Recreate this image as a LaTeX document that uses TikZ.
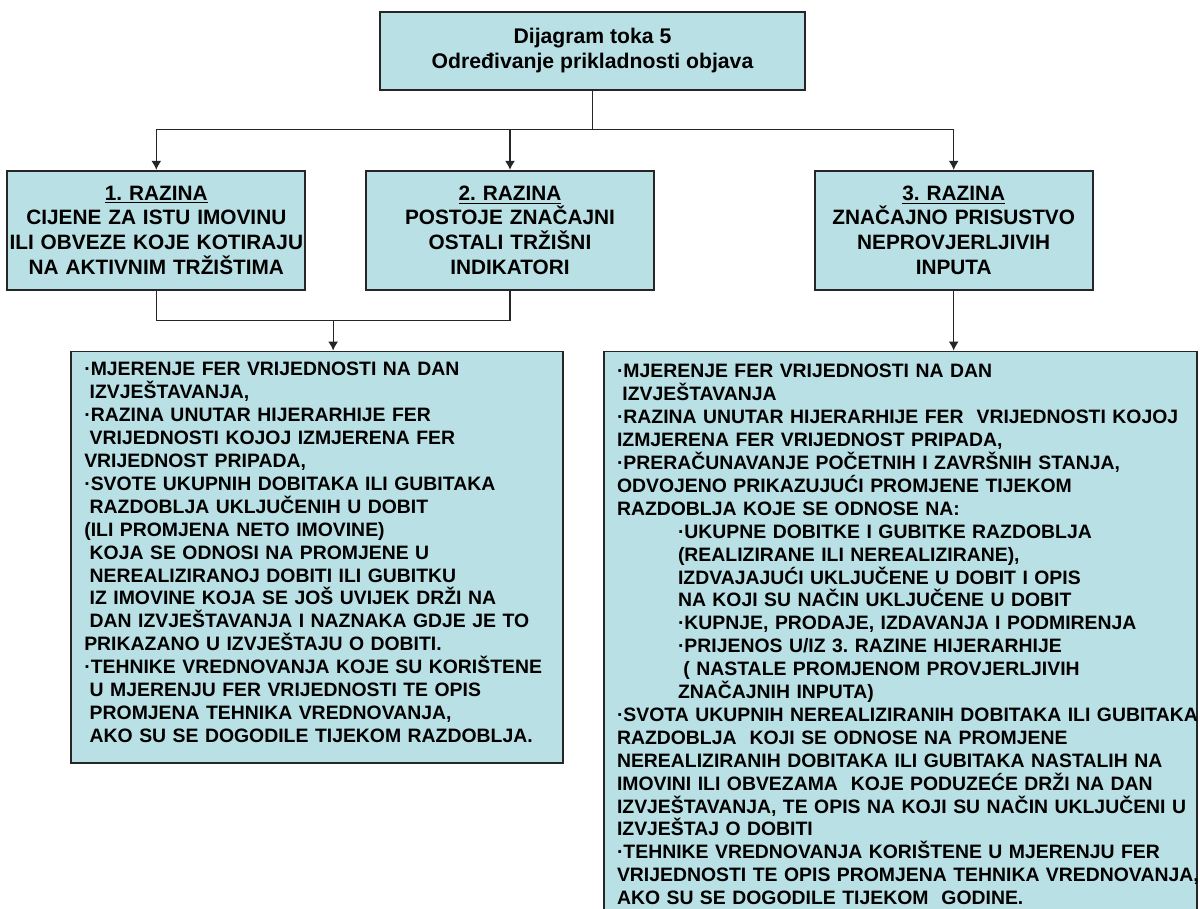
\documentclass[tikz,border=0pt]{standalone}
\usepackage{fontspec}
\setmainfont{Liberation Sans}
\usetikzlibrary{positioning,shapes,arrows.meta,calc}
\definecolor{boxfill}{RGB}{185,224,228}
\newcommand{\lsp}{\hspace*{0.28em}}
\newcommand{\subind}{\hspace*{30.5pt}}
\frenchspacing
\hyphenpenalty=10000
\exhyphenpenalty=10000

\begin{document}
\begin{tikzpicture}[
  x=1pt,y=1pt,
  box/.style={draw=black!85,line width=0.85pt,fill=boxfill,inner sep=0pt},
  titlebox/.style={box,minimum width=212.5pt,minimum height=39pt,align=center,
    font=\bfseries\fontsize{10.6}{12.5}\selectfont},
  levelbox/.style={box,minimum height=59.5pt,align=center,
    font=\bfseries\fontsize{10.4}{12.4}\selectfont},
  listbox/.style={box,align=left,inner xsep=6.5pt,inner ysep=6.5pt,
    font=\bfseries\fontsize{9.7}{11.45}\selectfont},
  link/.style={line width=0.65pt,black!85},
  tip/.style={-{Latex[length=4.5pt,width=5pt]}}
]
\useasboundingbox (0,0) rectangle (600,-454.5);
\clip (0,0) rectangle (600,-454.5);

\node[titlebox] (title) at (296.25,-25.5) {Dijagram toka 5\\Određivanje prikladnosti objava};
\node[levelbox,text width=149pt,below left=39.5pt and 36.5pt of title] (lvl1)
  {\underline{1. RAZINA}\\CIJENE ZA ISTU IMOVINU\\ILI OBVEZE KOJE KOTIRAJU\\NA AKTIVNIM TRŽIŠTIMA};
\node[levelbox,text width=144pt,right=29.5pt of lvl1] (lvl2)
  {\underline{2. RAZINA}\\POSTOJE ZNAČAJNI\\OSTALI TRŽIŠNI\\INDIKATORI};
\node[levelbox,text width=139pt,right=79.5pt of lvl2] (lvl3)
  {\underline{3. RAZINA}\\ZNAČAJNO PRISUSTVO\\NEPROVJERLJIVIH\\INPUTA};
\node[listbox,text width=233pt,inner ysep=5.5pt,text depth=188pt,
  below=30pt of lvl1.south west,anchor=north west,xshift=32pt] (obj12)
  {·MJERENJE FER VRIJEDNOSTI NA DAN\\
  \lsp IZVJEŠTAVANJA,\\
  ·RAZINA UNUTAR HIJERARHIJE FER\\
  \lsp VRIJEDNOSTI KOJOJ IZMJERENA FER\\
  VRIJEDNOST PRIPADA,\\
  ·SVOTE UKUPNIH DOBITAKA ILI GUBITAKA\\
  \lsp RAZDOBLJA UKLJUČENIH U DOBIT\\
  (ILI PROMJENA NETO IMOVINE)\\
  \lsp KOJA SE ODNOSI NA PROMJENE U\\
  \lsp NEREALIZIRANOJ DOBITI ILI GUBITKU\\
  \lsp IZ IMOVINE KOJA SE JOŠ UVIJEK DRŽI NA\\
  \lsp DAN IZVJEŠTAVANJA I NAZNAKA GDJE JE TO\\
  PRIKAZANO U IZVJEŠTAJU O DOBITI.\\
  ·TEHNIKE VREDNOVANJA KOJE SU KORIŠTENE\\
  \lsp U MJERENJU FER VRIJEDNOSTI TE OPIS\\
  \lsp PROMJENA TEHNIKA VREDNOVANJA,\\
  \lsp AKO SU SE DOGODILE TIJEKOM RAZDOBLJA.};
\node[listbox,text width=283.5pt,right=19.5pt of obj12.north east,anchor=north west] (obj3)
  {·MJERENJE FER VRIJEDNOSTI NA DAN\\
  \lsp IZVJEŠTAVANJA\\
  ·RAZINA~UNUTAR~HIJERARHIJE~FER~~VRIJEDNOSTI~KOJOJ\\
  IZMJERENA FER VRIJEDNOST PRIPADA,\\
  ·PRERAČUNAVANJE POČETNIH I ZAVRŠNIH STANJA,\\
  ODVOJENO PRIKAZUJUĆI PROMJENE TIJEKOM\\
  RAZDOBLJA KOJE SE ODNOSE NA:\\
  \subind ·UKUPNE DOBITKE I GUBITKE RAZDOBLJA\\
  \subind (REALIZIRANE ILI NEREALIZIRANE),\\
  \subind IZDVAJAJUĆI UKLJUČENE U DOBIT I OPIS\\
  \subind NA KOJI SU NAČIN UKLJUČENE U DOBIT\\
  \subind ·KUPNJE, PRODAJE, IZDAVANJA I PODMIRENJA\\
  \subind ·PRIJENOS U/IZ 3. RAZINE HIJERARHIJE\\
  \subind\lsp ( NASTALE PROMJENOM PROVJERLJIVIH\\
  \subind ZNAČAJNIH INPUTA)\\
  ·SVOTA~UKUPNIH~NEREALIZIRANIH~DOBITAKA~ILI~GUBITAKA\\
  RAZDOBLJA\ \ KOJI SE ODNOSE NA PROMJENE\\
  NEREALIZIRANIH DOBITAKA ILI GUBITAKA NASTALIH NA\\
  IMOVINI ILI OBVEZAMA\ \ KOJE PODUZEĆE DRŽI NA DAN\\
  IZVJEŠTAVANJA,~TE~OPIS~NA~KOJI~SU~NAČIN~UKLJUČENI~U\\
  IZVJEŠTAJ O DOBITI\\
  ·TEHNIKE VREDNOVANJA KORIŠTENE U MJERENJU FER\\
  VRIJEDNOSTI~TE~OPIS~PROMJENA~TEHNIKA~VREDNOVANJA,\\
  AKO SU SE DOGODILE TIJEKOM\ \ GODINE.};

\coordinate[below=19.5pt of title.south] (bus);
\coordinate[below=15pt of lvl1.south] (join1);
\coordinate (join) at ($(join1)!0.5!(join1 -| lvl2.south)$);

\draw[link] (title.south) -- (bus);
\draw[link] (lvl1.north |- bus) -- (lvl3.north |- bus);
\path[link] (lvl1.north |- bus) edge[tip] (lvl1.north)
  (lvl2.north |- bus) edge[tip] (lvl2.north)
  (lvl3.north |- bus) edge[tip] (lvl3.north);
\draw[link] (lvl1.south) -- (join1) -| (lvl2.south);
\path[link] (join) edge[tip] (join |- obj12.north)
  (lvl3.south) edge[tip] (lvl3.south |- obj3.north);
\end{tikzpicture}
\end{document}
